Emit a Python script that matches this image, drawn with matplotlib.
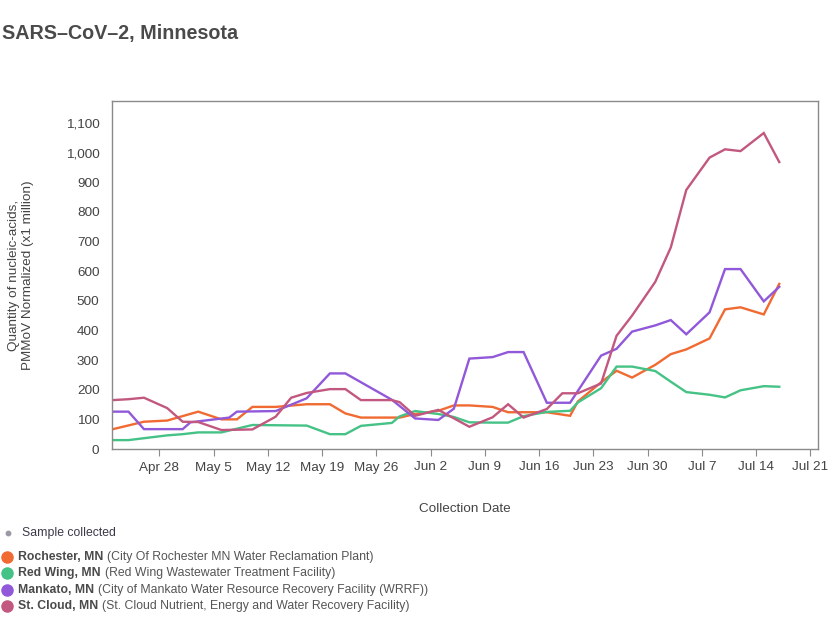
import numpy as np
import pandas as pd
import matplotlib
matplotlib.use('Agg')
import matplotlib.pyplot as plt
from matplotlib.lines import Line2D

plt.rcParams['font.family'] = ['Liberation Sans', 'DejaVu Sans']

# wastewater readings per site (PMMoV normalized, x1 million)
roch_dates = ['2025-04-22', '2025-04-26', '2025-04-29', '2025-05-03', '2025-05-06', '2025-05-08',
              '2025-05-10', '2025-05-13', '2025-05-17', '2025-05-20', '2025-05-22', '2025-05-24',
              '2025-05-29', '2025-05-31', '2025-06-03', '2025-06-05', '2025-06-07', '2025-06-10',
              '2025-06-12', '2025-06-14', '2025-06-17', '2025-06-20', '2025-06-21', '2025-06-24',
              '2025-06-26', '2025-06-28', '2025-07-01', '2025-07-03', '2025-07-05', '2025-07-08',
              '2025-07-10', '2025-07-12', '2025-07-15', '2025-07-17']
roch_vals = [67, 92, 96, 126, 100, 100, 142, 142, 151, 151, 120, 106, 106, 118, 129, 147, 147, 142,
             124, 124, 124, 112, 160, 225, 264, 241, 284, 320, 336, 373, 471, 478, 454, 557]

redw_dates = ['2025-04-22', '2025-04-24', '2025-04-29', '2025-05-01', '2025-05-03', '2025-05-06',
              '2025-05-10', '2025-05-17', '2025-05-20', '2025-05-22', '2025-05-24', '2025-05-28',
              '2025-05-29', '2025-05-31', '2025-06-03', '2025-06-05', '2025-06-07', '2025-06-10',
              '2025-06-12', '2025-06-14', '2025-06-17', '2025-06-20', '2025-06-21', '2025-06-24',
              '2025-06-26', '2025-06-28', '2025-07-01', '2025-07-03', '2025-07-05', '2025-07-08',
              '2025-07-10', '2025-07-12', '2025-07-15', '2025-07-17']
redw_vals = [30, 30, 46, 50, 56, 56, 81, 79, 50, 50, 78, 88, 110, 128, 118, 108, 90, 89,
             89, 111, 125, 129, 157, 205, 278, 278, 263, 227, 192, 183, 174, 198, 212, 210]

mank_dates = ['2025-04-22', '2025-04-24', '2025-04-26', '2025-05-01', '2025-05-02', '2025-05-07',
              '2025-05-08', '2025-05-13', '2025-05-17', '2025-05-20', '2025-05-22', '2025-05-28',
              '2025-05-31', '2025-06-03', '2025-06-05', '2025-06-07', '2025-06-10', '2025-06-12',
              '2025-06-14', '2025-06-17', '2025-06-20', '2025-06-24', '2025-06-26', '2025-06-28',
              '2025-07-01', '2025-07-03', '2025-07-05', '2025-07-08', '2025-07-10', '2025-07-12',
              '2025-07-15', '2025-07-17']
mank_vals = [126, 126, 67, 67, 90, 106, 126, 128, 171, 255, 255, 166, 103, 98, 136, 305, 310, 327,
             327, 156, 156, 315, 338, 396, 417, 435, 387, 461, 607, 607, 498, 547]

stcl_dates = ['2025-04-22', '2025-04-24', '2025-04-26', '2025-04-29', '2025-05-01', '2025-05-03',
              '2025-05-06', '2025-05-10', '2025-05-13', '2025-05-15', '2025-05-17', '2025-05-20',
              '2025-05-22', '2025-05-24', '2025-05-28', '2025-05-29', '2025-05-31', '2025-06-03',
              '2025-06-07', '2025-06-10', '2025-06-12', '2025-06-14', '2025-06-17', '2025-06-19',
              '2025-06-21', '2025-06-24', '2025-06-26', '2025-06-28', '2025-07-01', '2025-07-03',
              '2025-07-05', '2025-07-08', '2025-07-10', '2025-07-12', '2025-07-15', '2025-07-17']
stcl_vals = [165, 168, 173, 138, 92, 91, 64, 66, 109, 173, 189, 202, 202, 165, 165, 158, 112, 132,
             75, 107, 151, 106, 135, 188, 188, 221, 382, 450, 564, 680, 874, 983, 1011, 1005, 1066, 968]

sites = ['Rochester, MN', 'Red Wing, MN', 'Mankato, MN', 'St. Cloud, MN']
facilities = ['(City Of Rochester MN Water Reclamation Plant)',
              '(Red Wing Wastewater Treatment Facility)',
              '(City of Mankato Water Resource Recovery Facility (WRRF))',
              '(St. Cloud Nutrient, Energy and Water Recovery Facility)']
colors = ['#F06A32', '#45C285', '#9158D9', '#C2587F']

series = [(roch_dates, roch_vals), (redw_dates, redw_vals),
          (mank_dates, mank_vals), (stcl_dates, stcl_vals)]

yticks = np.arange(0, 1101, 100)
tick_dates = pd.date_range('2025-04-28', '2025-07-21', freq='7D')

W, H = 840, 624
fig = plt.figure(figsize=(W / 100, H / 100), dpi=100)
ax = fig.add_axes([112 / W, 1 - 449 / H, (818 - 112) / W, (449 - 101) / H])

for (d, v), c in zip(series, colors):
    ax.plot(pd.to_datetime(d), v, color=c, lw=1.7, solid_joinstyle='miter')

ax.set_ylim(0, 1174)
ax.set_xlim(pd.Timestamp('2025-04-21 21:00'), pd.Timestamp('2025-07-22 00:00'))
ax.set_yticks(yticks)
ax.set_yticklabels([f'{v:,}' for v in yticks])
ax.set_xticks(tick_dates)
ax.set_xticklabels([t.strftime('%b ') + str(t.day) for t in tick_dates])

for s in ax.spines.values():
    s.set_color('#8a8a8a')
    s.set_linewidth(1.0)
ax.tick_params(axis='y', length=0, pad=9, labelsize=9.7, labelcolor='#444444')
ax.tick_params(axis='x', length=5, color='#8a8a8a', pad=4, labelsize=9.7, labelcolor='#444444')

ax.set_ylabel('Quantity of nucleic-acids,\nPMMoV Normalized (x1 million)',
              fontsize=9.7, color='#444444', labelpad=23)
ax.set_xlabel('Collection Date', fontsize=9.7, color='#444444', labelpad=21)

fig.text(2 / W, 1 - 33 / H, 'SARS\u2013CoV\u20132, Minnesota', fontsize=14.2,
         fontweight='bold', color='#4a4a4a', va='center', ha='left')

# legend block under the chart
fig.add_artist(Line2D([8 / W], [1 - 533 / H], marker='o', ms=3.2, color='#9a9aa6',
                      transform=fig.transFigure))
fig.text(22 / W, 1 - 533 / H, 'Sample collected', fontsize=8.8, color='#3a3a4a', va='center')

renderer = fig.canvas.get_renderer()
for i, (name, fac, c) in enumerate(zip(sites, facilities, colors)):
    y = 1 - (557 + i * 16.4) / H
    fig.add_artist(Line2D([7 / W], [y], marker='o', ms=8, color=c, transform=fig.transFigure))
    t = fig.text(18 / W, y, name, fontsize=8.8, fontweight='bold', color='#4a4a4a', va='center')
    bb = t.get_window_extent(renderer)
    fig.text((bb.x1 + 4) / W, y, fac, fontsize=8.8, color='#555555', va='center')

fig.savefig('out.png', dpi=100)
